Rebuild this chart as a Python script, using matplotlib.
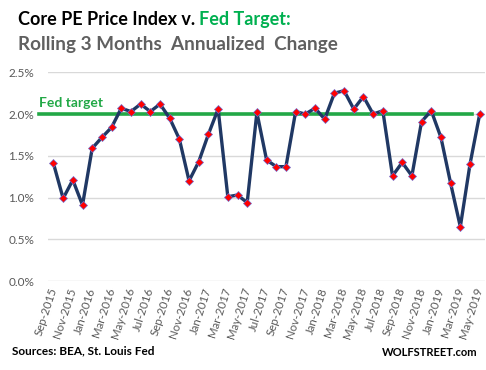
import matplotlib
matplotlib.use("Agg")
import matplotlib.pyplot as plt
from matplotlib.ticker import FuncFormatter

plt.rcParams['font.family'] = ['Lato', 'DejaVu Sans']

# Core PCE price index, rolling 3 months annualized change (%), Sep 2015 - May 2019
months = ['Sep-2015', 'Oct-2015', 'Nov-2015', 'Dec-2015',
          'Jan-2016', 'Feb-2016', 'Mar-2016', 'Apr-2016', 'May-2016', 'Jun-2016',
          'Jul-2016', 'Aug-2016', 'Sep-2016', 'Oct-2016', 'Nov-2016', 'Dec-2016',
          'Jan-2017', 'Feb-2017', 'Mar-2017', 'Apr-2017', 'May-2017', 'Jun-2017',
          'Jul-2017', 'Aug-2017', 'Sep-2017', 'Oct-2017', 'Nov-2017', 'Dec-2017',
          'Jan-2018', 'Feb-2018', 'Mar-2018', 'Apr-2018', 'May-2018', 'Jun-2018',
          'Jul-2018', 'Aug-2018', 'Sep-2018', 'Oct-2018', 'Nov-2018', 'Dec-2018',
          'Jan-2019', 'Feb-2019', 'Mar-2019', 'Apr-2019', 'May-2019']
core_pce = [1.41, 0.99, 1.21, 0.91,
            1.59, 1.72, 1.84, 2.07, 2.03, 2.12,
            2.03, 2.12, 1.95, 1.70, 1.20, 1.43,
            1.76, 2.06, 1.01, 1.03, 0.94, 2.02,
            1.45, 1.37, 1.37, 2.03, 2.00, 2.07,
            1.94, 2.25, 2.28, 2.06, 2.21, 2.00,
            2.04, 1.26, 1.42, 1.26, 1.91, 2.04,
            1.72, 1.17, 0.65, 1.40, 2.00]
fed_target = 2.0

fig = plt.figure(figsize=(4.86, 3.70), dpi=100)
ax = fig.add_axes([0.099, 0.2405, 0.898, 0.564])

x = list(range(len(months)))

ax.plot(x, core_pce, color='#203864', linewidth=2.4, zorder=3,
        marker='D', markersize=3.6, markerfacecolor='#FF0000',
        markeredgecolor='#6F6FD0', markeredgewidth=0.5)

# fed target line runs a bit past the left edge of the plot
ax.plot([-1.5, 43.25], [fed_target, fed_target], color='#22A846',
        linewidth=2.6, zorder=2, clip_on=False)
ax.text(-1.45, 2.06, 'Fed target', color='#22A846', fontsize=10,
        fontweight='bold', ha='left', va='bottom')

ax.set_xlim(-0.55, 44.5)
ax.set_ylim(0, 2.5)
ax.set_yticks([0, 0.5, 1.0, 1.5, 2.0, 2.5])
ax.yaxis.set_major_formatter(FuncFormatter(lambda v, p: f'{v:.1f}%'))
ax.grid(axis='y', color='#D9D9D9', linewidth=1.0)
ax.set_axisbelow(True)
for s in ax.spines.values():
    s.set_visible(False)

ax.set_xticks(x[::2])
ax.set_xticklabels(months[::2], rotation=72, ha='right', va='center',
                   rotation_mode='anchor', fontsize=8.3, color='#595959')
ax.tick_params(axis='x', length=0, pad=5)
ax.tick_params(axis='y', length=0, pad=10, labelsize=8.5, labelcolor='#595959')
for lbl in ax.get_yticklabels():
    lbl.set_clip_on(False)

t1 = fig.text(0.037, 0.932, 'Core PE Price Index v. ', fontsize=13, fontweight='bold',
              color='black', ha='left', va='baseline')
fig.canvas.draw()
bb = t1.get_window_extent(renderer=fig.canvas.get_renderer())
fig.text(bb.x1 / fig.bbox.width, 0.932, 'Fed Target:', fontsize=13, fontweight='bold',
         color='#00B050', ha='left', va='baseline')
fig.text(0.037, 0.865, 'Rolling 3 Months  Annualized  Change', fontsize=13.6,
         fontweight='bold', color='#606060', ha='left', va='baseline')

fig.text(0.025, 0.043, 'Sources: BEA, St. Louis Fed', fontsize=8.5,
         fontweight='bold', color='black', ha='left', va='baseline')
fig.text(0.982, 0.037, 'WOLFSTREET.com', fontsize=8, fontweight='bold',
         color='black', ha='right', va='baseline')

fig.savefig('out.png', dpi=100)
